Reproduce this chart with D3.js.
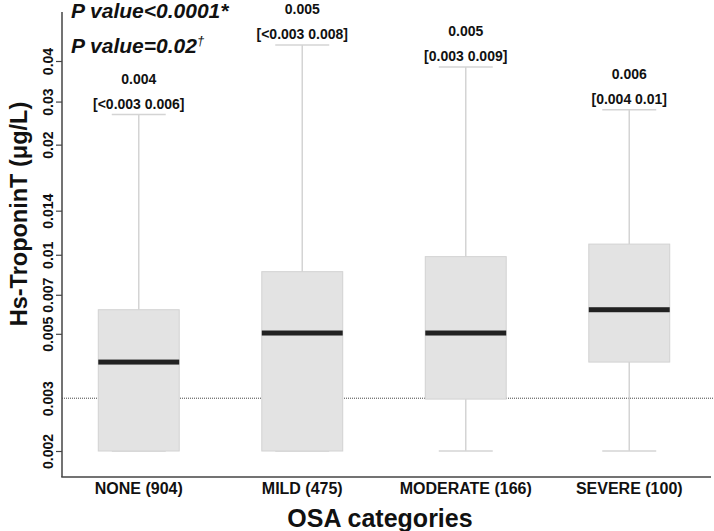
<!DOCTYPE html>
<html>
<head>
<meta charset="utf-8">
<script src="https://cdn.jsdelivr.net/npm/d3@7/dist/d3.min.js"></script>
<style>
  html, body { margin: 0; padding: 0; background: #fff; }
  svg { display: block; font-family: "Liberation Sans", Arial, sans-serif; }
</style>
</head>
<body>
<svg id="chart" width="714" height="531"></svg>
<script>
// ---- data ----
const categories = ["NONE (904)", "MILD (475)", "MODERATE (166)", "SEVERE (100)"];
const whiskerLow = [0.002, 0.002, 0.002, 0.002];
const q1Values   = [0.002, 0.002, 0.00298, 0.00396];
const medians    = [0.00396, 0.00495, 0.00495, 0.00592];
const q3Values   = [0.00592, 0.00793, 0.0089, 0.0098];
const whiskerHigh = [0.0265, 0.0452, 0.0382, 0.0275];
const medianLabels = ["0.004", "0.005", "0.005", "0.006"];
const iqrLabels = ["[<0.003 0.006]", "[<0.003 0.008]", "[0.003 0.009]", "[0.004 0.01]"];
const tickValues = [0.002, 0.003, 0.00492, 0.00664, 0.00903, 0.01267, 0.02104, 0.02929, 0.04];
const tickLabels = ["0.002", "0.003", "0.005", "0.007", "0.01", "0.014", "0.02", "0.03", "0.04"];
const referenceValue = 0.003;
const pValueLines = ["P value<0.0001*", "P value=0.02"];

// ---- layout ----
const W = 714, H = 531;
const axisX = 62, axisBottom = 477, axisTop = 12;
const svg = d3.select("#chart");
svg.append("rect").attr("width", W).attr("height", H).attr("fill", "#fff");

const x = d3.scaleBand().domain(categories).range([57, 711]);
const y = d3.scaleLog().domain([0.002, 0.04]).range([451, 61]);

const boxW = x.bandwidth() * 0.495;
const capW = x.bandwidth() * 0.33;

const rows = categories.map((c, i) => ({
  c, lo: whiskerLow[i], q1: q1Values[i], med: medians[i], q3: q3Values[i], hi: whiskerHigh[i],
  ml: medianLabels[i], il: iqrLabels[i]
}));

// reference dotted line
svg.append("line")
  .attr("x1", axisX).attr("x2", W)
  .attr("y1", y(referenceValue)).attr("y2", y(referenceValue))
  .attr("stroke", "#444").attr("stroke-width", 1).attr("stroke-dasharray", "1,1");

const g = svg.append("g");
const box = g.selectAll("g.box").data(rows).join("g").attr("class", "box")
  .attr("transform", d => `translate(${x(d.c) + x.bandwidth() / 2},0)`);

const wColor = "#d4d4d4";
// whiskers
box.append("line").attr("x1", 0).attr("x2", 0)
  .attr("y1", d => y(d.hi)).attr("y2", d => y(d.q3))
  .attr("stroke", wColor).attr("stroke-width", 1.5);
box.append("line").attr("x1", 0).attr("x2", 0)
  .attr("y1", d => y(d.q1)).attr("y2", d => y(d.lo))
  .attr("stroke", wColor).attr("stroke-width", 1.5);
box.append("line").attr("x1", -capW / 2).attr("x2", capW / 2)
  .attr("y1", d => y(d.hi)).attr("y2", d => y(d.hi))
  .attr("stroke", wColor).attr("stroke-width", 1.5);
box.append("line").attr("x1", -capW / 2).attr("x2", capW / 2)
  .attr("y1", d => y(d.lo)).attr("y2", d => y(d.lo))
  .attr("stroke", wColor).attr("stroke-width", 1.5);
// box
box.append("rect")
  .attr("x", -boxW / 2).attr("width", boxW)
  .attr("y", d => y(d.q3)).attr("height", d => y(d.q1) - y(d.q3))
  .attr("fill", "#e3e3e3").attr("stroke", "#d2d2d2").attr("stroke-width", 1);
// median
box.append("rect")
  .attr("x", -boxW / 2).attr("width", boxW)
  .attr("y", d => y(d.med) - 2.5).attr("height", 5)
  .attr("fill", "#222");
// labels
box.append("text").attr("x", 0).attr("y", d => y(d.hi) - 31)
  .attr("text-anchor", "middle").attr("font-size", 14).attr("font-weight", "bold")
  .attr("fill", "#111").text(d => d.ml);
box.append("text").attr("x", 0).attr("y", d => y(d.hi) - 6)
  .attr("text-anchor", "middle").attr("font-size", 14).attr("font-weight", "bold")
  .attr("fill", "#111").text(d => d.il);

// ---- axes ----
const yAxis = d3.axisLeft(y).tickValues(tickValues)
  .tickFormat((d, i) => tickLabels[i]).tickSize(6).tickSizeOuter(0);
const yg = svg.append("g").attr("transform", `translate(${axisX},0)`).call(yAxis);
yg.select(".domain").remove();
yg.selectAll(".tick line").attr("stroke", "#444").attr("stroke-width", 1.2)
  .attr("display", (d, i) => tickValues[i] === referenceValue ? "none" : null);
yg.selectAll(".tick text")
  .attr("transform", "rotate(-90)")
  .attr("x", 0).attr("y", -9).attr("dy", 0)
  .attr("text-anchor", "middle")
  .attr("font-size", 14).attr("font-weight", "bold")
  .attr("font-family", "Liberation Sans, Arial, sans-serif")
  .attr("fill", "#111");

svg.append("line").attr("x1", axisX).attr("x2", axisX)
  .attr("y1", axisTop).attr("y2", axisBottom)
  .attr("stroke", "#444").attr("stroke-width", 1.5);
svg.append("line").attr("x1", axisX - 0.75).attr("x2", 711)
  .attr("y1", axisBottom).attr("y2", axisBottom)
  .attr("stroke", "#444").attr("stroke-width", 1.5);

const xAxis = d3.axisBottom(x).tickSize(0);
const xg = svg.append("g").attr("transform", `translate(0,${axisBottom})`).call(xAxis);
xg.select(".domain").remove();
xg.selectAll(".tick text").attr("y", 17).attr("dy", 0)
  .attr("font-size", 16).attr("font-weight", "bold")
  .attr("font-family", "Liberation Sans, Arial, sans-serif").attr("fill", "#111");

// axis titles
svg.append("text").attr("x", 380).attr("y", 527)
  .attr("text-anchor", "middle").attr("font-size", 25).attr("font-weight", "bold")
  .attr("fill", "#111").text("OSA categories");
svg.append("text").attr("transform", "translate(27,214) rotate(-90)")
  .attr("text-anchor", "middle").attr("font-size", 23.5).attr("font-weight", "bold")
  .attr("fill", "#111").text("Hs-TroponinT (μg/L)");

// p-values
svg.append("text").attr("x", 71).attr("y", 18)
  .attr("font-size", 21).attr("font-weight", "bold").attr("font-style", "italic")
  .attr("fill", "#111").text(pValueLines[0]);
const p2 = svg.append("text").attr("x", 71).attr("y", 53)
  .attr("font-size", 21).attr("font-weight", "bold").attr("font-style", "italic")
  .attr("fill", "#111").text(pValueLines[1]);
p2.append("tspan").attr("font-size", 13).attr("dy", -8).attr("font-weight", "normal").text("†");
</script>
</body>
</html>
